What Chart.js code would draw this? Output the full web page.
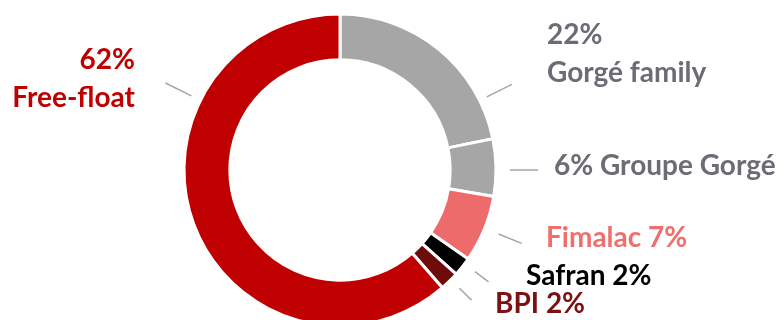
<!DOCTYPE html>
<html>
<head>
<meta charset="utf-8">
<script src="https://cdn.jsdelivr.net/npm/chart.js@4.4.1/dist/chart.umd.min.js"></script>
<style>
  html, body { margin: 0; padding: 0; background: #fff; overflow: hidden; }
  #wrap { width: 783px; height: 340px; position: relative; }
</style>
</head>
<body>
<div id="wrap"><canvas id="shareChart"></canvas></div>
<script>
// actionnariat (clockwise from 12 o'clock)
const holders = ['Gorgé family', 'Groupe Gorgé', 'Fimalac', 'Safran', 'BPI', 'Free-float'];
const shares = [22, 6, 7, 2, 2, 62];

const sliceColors = ['#A6A6A6', '#A6A6A6', '#EE6B6B', '#000000', '#6E0C0C', '#C00000'];
const textColors = ['#6B6C74', '#6B6C74', '#EF6F6F', '#000000', '#7A1212', '#C00000'];

// how each label is written: 'stack' = % on its own line above, 'before' = "6% Name", 'after' = "Name 7%"
const labelStyle = ['stack', 'before', 'after', 'after', 'after', 'stack'];
// leader line angle (deg clockwise from top), text anchor offset from centre, alignment
const labelLayout = [
    { angle: 63.5, r0: 8, r1: 36, dx: 207, dy: -126, align: 'left' },
    { angle: 90, r0: 14, r1: 42, dx: 214, dy: 5, align: 'left' },
    { angle: 112, r0: 15, r1: 40, dx: 206, dy: 77, align: 'left' },
    { angle: 127, r0: 13, r1: 30, dx: 186, dy: 115, align: 'left' },
    { angle: 134.7, r0: 12, r1: 29, dx: 155, dy: 143, align: 'left' },
    { angle: 296.5, r0: 10, r1: 39, dx: -205, dy: -101, align: 'right' }
];

const FONT = 'bold 28px Lato, "Open Sans", sans-serif';
const LINE_GAP = 38;

const calloutPlugin = {
    id: 'callouts',
    afterDraw(chart) {
        const arc = chart.getDatasetMeta(0).data[0];
        if (!arc) return;
        const cx = arc.x, cy = arc.y, R = arc.outerRadius;
        const ctx = chart.ctx;
        ctx.save();
        holders.forEach((name, i) => {
            const lay = labelLayout[i];
            const a = lay.angle * Math.PI / 180;
            const sx = Math.sin(a), sy = -Math.cos(a);
            ctx.strokeStyle = '#A6A6A6';
            ctx.lineWidth = 1.5;
            ctx.beginPath();
            ctx.moveTo(cx + sx * (R + lay.r0), cy + sy * (R + lay.r0));
            ctx.lineTo(cx + sx * (R + lay.r1), cy + sy * (R + lay.r1));
            ctx.stroke();

            const pct = shares[i] + '%';
            let lines;
            if (labelStyle[i] === 'stack') lines = [pct, name];
            else if (labelStyle[i] === 'before') lines = [pct + ' ' + name];
            else lines = [name + ' ' + pct];

            ctx.font = FONT;
            ctx.fillStyle = textColors[i];
            ctx.textAlign = lay.align;
            ctx.textBaseline = 'alphabetic';
            lines.forEach((t, k) => {
                ctx.fillText(t, cx + lay.dx, cy + lay.dy + k * LINE_GAP);
            });
        });
        ctx.restore();
    }
};

new Chart(document.getElementById('shareChart'), {
    type: 'doughnut',
    data: {
        labels: holders,
        datasets: [{
            data: shares,
            backgroundColor: sliceColors,
            borderColor: '#FFFFFF',
            borderWidth: 3,
            hoverOffset: 0
        }]
    },
    options: {
        responsive: true,
        maintainAspectRatio: false,
        animation: false,
        events: [],
        radius: 156,
        cutout: 119,
        layout: { padding: { left: 0, right: 103, top: 0, bottom: 0 } },
        plugins: {
            legend: { display: false },
            tooltip: { enabled: false }
        }
    },
    plugins: [calloutPlugin]
});
</script>
</body>
</html>
